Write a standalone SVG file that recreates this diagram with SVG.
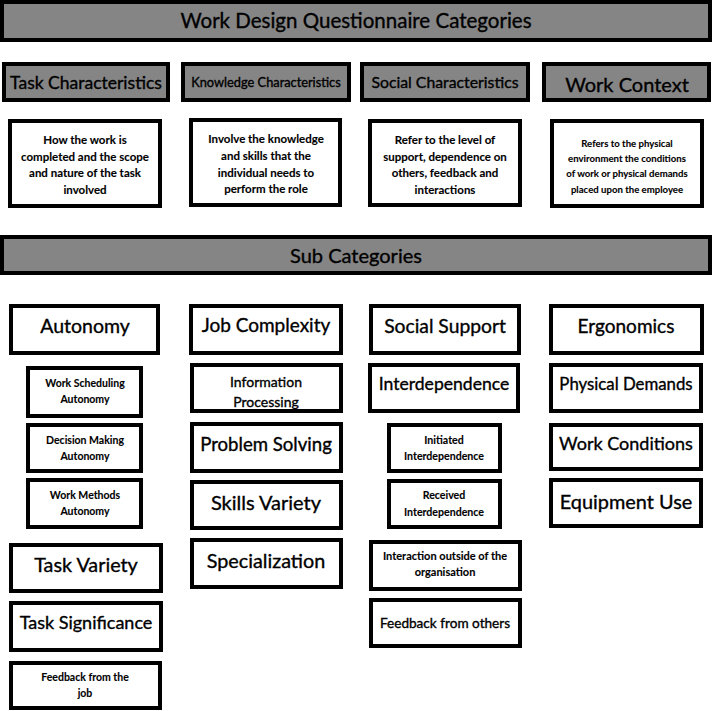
<svg xmlns="http://www.w3.org/2000/svg" width="712" height="711" viewBox="0 0 712 711">
<style>
.hd{fill:#858585;stroke:#000;stroke-width:4}
.bx{fill:#fff;stroke:#000;stroke-width:4}
text{font-family:Lato,"Open Sans","Liberation Sans",sans-serif;fill:#000;text-anchor:middle;stroke:#000;stroke-width:0.35}
.b{font-weight:bold;stroke-width:0.1}
</style>
<rect width="712" height="711" fill="#fff"/>
<g id="title"><rect class="hd" x="2" y="2" width="708" height="38"/><text style="font-size:20.5px" x="356" y="28">Work Design Questionnaire Categories</text></g>
<g id="cat-task"><rect class="hd" x="4" y="64" width="164" height="36"/><text style="font-size:17.5px" x="86" y="89">Task Characteristics</text></g>
<g id="cat-knowledge"><rect class="hd" x="183" y="64" width="166" height="36"/><text style="font-size:12.8px" x="266" y="87">Knowledge Characteristics</text></g>
<g id="cat-social"><rect class="hd" x="362" y="64" width="166" height="36"/><text style="font-size:15.8px" x="445" y="88">Social Characteristics</text></g>
<g id="cat-context"><rect class="hd" x="544" y="64" width="165" height="36"/><text style="font-size:20px" x="627" y="92">Work Context</text></g>
<g id="desc-task"><rect class="bx" x="10" y="121" width="150" height="85"/>
<text class="b" style="font-size:11.5px"><tspan x="85" y="144">How the work is</tspan><tspan x="85" y="161">completed and the scope</tspan><tspan x="85" y="177">and nature of the task</tspan><tspan x="85" y="194">involved</tspan></text></g>
<g id="desc-knowledge"><rect class="bx" x="191" y="120" width="149" height="85"/>
<text class="b" style="font-size:11.5px"><tspan x="266" y="143">Involve the knowledge</tspan><tspan x="266" y="160">and skills that the</tspan><tspan x="266" y="177">individual needs to</tspan><tspan x="266" y="193">perform the role</tspan></text></g>
<g id="desc-social"><rect class="bx" x="370" y="121" width="150" height="84"/>
<text class="b" style="font-size:11.5px"><tspan x="445" y="144">Refer to the level of</tspan><tspan x="445" y="161">support, dependence on</tspan><tspan x="445" y="177">others, feedback and</tspan><tspan x="445" y="194">interactions</tspan></text></g>
<g id="desc-context"><rect class="bx" x="552" y="121" width="150" height="85"/>
<text class="b" style="font-size:9.6px"><tspan x="627" y="147">Refers to the physical</tspan><tspan x="627" y="162">environment the conditions</tspan><tspan x="627" y="177">of work or physical demands</tspan><tspan x="627" y="193">placed upon the employee</tspan></text></g>
<g id="subcat"><rect class="hd" x="2" y="237" width="708" height="36"/><text style="font-size:20px" x="356" y="263">Sub Categories</text></g>
<g id="autonomy"><rect class="bx" x="11" y="306" width="147" height="47"/><text style="font-size:19.5px" x="85" y="333">Autonomy</text></g>
<g id="job-complexity"><rect class="bx" x="191" y="306" width="150" height="47"/><text style="font-size:19px" x="266" y="332">Job Complexity</text></g>
<g id="social-support"><rect class="bx" x="371" y="306" width="148" height="47"/><text style="font-size:19.3px" x="445" y="333">Social Support</text></g>
<g id="ergonomics"><rect class="bx" x="551" y="306" width="151" height="47"/><text style="font-size:19px" x="626" y="333">Ergonomics</text></g>
<g id="work-scheduling"><rect class="bx" x="28" y="368" width="113" height="48"/><text class="b" style="font-size:10.5px"><tspan x="85" y="387">Work Scheduling</tspan><tspan x="85" y="403">Autonomy</tspan></text></g>
<g id="decision-making"><rect class="bx" x="28" y="425" width="113" height="46"/><text class="b" style="font-size:10.5px"><tspan x="85" y="444">Decision Making</tspan><tspan x="85" y="460">Autonomy</tspan></text></g>
<g id="work-methods"><rect class="bx" x="28" y="480" width="113" height="47"/><text class="b" style="font-size:10.5px"><tspan x="85" y="499">Work Methods</tspan><tspan x="85" y="515">Autonomy</tspan></text></g>
<g id="task-variety"><rect class="bx" x="11" y="545" width="150" height="46"/><text style="font-size:19.8px" x="86" y="572">Task Variety</text></g>
<g id="task-significance"><rect class="bx" x="11" y="603" width="150" height="47"/><text style="font-size:18px" x="86" y="629">Task Significance</text></g>
<g id="feedback-job"><rect class="bx" x="11" y="663" width="149" height="45"/><text class="b" style="font-size:10.5px"><tspan x="85" y="681">Feedback from the</tspan><tspan x="85" y="697">job</tspan></text></g>
<g id="info-processing"><rect class="bx" x="192" y="365" width="149" height="46"/><text style="font-size:14px"><tspan x="266" y="387">Information</tspan><tspan x="266" y="407">Processing</tspan></text></g>
<g id="problem-solving"><rect class="bx" x="192" y="424" width="149" height="47"/><text style="font-size:18.6px" x="266" y="451">Problem Solving</text></g>
<g id="skills-variety"><rect class="bx" x="192" y="482" width="149" height="46"/><text style="font-size:20px" x="266" y="510">Skills Variety</text></g>
<g id="specialization"><rect class="bx" x="192" y="540" width="149" height="47"/><text style="font-size:19.8px" x="266" y="568">Specialization</text></g>
<g id="interdependence"><rect class="bx" x="370" y="365" width="148" height="46"/><text style="font-size:17.6px" x="444" y="390">Interdependence</text></g>
<g id="initiated"><rect class="bx" x="389" y="425" width="111" height="46"/><text class="b" style="font-size:10.6px"><tspan x="444" y="444">Initiated</tspan><tspan x="444" y="460">Interdependence</tspan></text></g>
<g id="received"><rect class="bx" x="389" y="481" width="111" height="46"/><text class="b" style="font-size:10.6px"><tspan x="444" y="499">Received</tspan><tspan x="444" y="516">Interdependence</tspan></text></g>
<g id="interaction-outside"><rect class="bx" x="371" y="542" width="149" height="47"/><text class="b" style="font-size:11px"><tspan x="445" y="560">Interaction outside of the</tspan><tspan x="445" y="576">organisation</tspan></text></g>
<g id="feedback-others"><rect class="bx" x="371" y="600" width="149" height="46"/><text style="font-size:13.6px" x="445" y="628">Feedback from others</text></g>
<g id="physical-demands"><rect class="bx" x="551" y="365" width="150" height="46"/><text style="font-size:16.8px" x="626" y="390">Physical Demands</text></g>
<g id="work-conditions"><rect class="bx" x="551" y="425" width="150" height="44"/><text style="font-size:18px" x="626" y="450">Work Conditions</text></g>
<g id="equipment-use"><rect class="bx" x="551" y="480" width="150" height="46"/><text style="font-size:19.9px" x="626" y="509">Equipment Use</text></g>
<g id="connectors"/>
</svg>
